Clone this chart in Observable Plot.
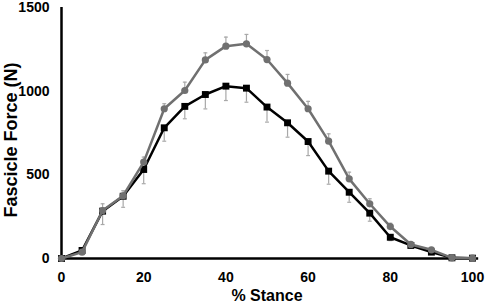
<!DOCTYPE html>
<html>
<head>
<meta charset="utf-8">
<script src="https://cdn.jsdelivr.net/npm/d3@7"></script>
<script src="https://cdn.jsdelivr.net/npm/@observablehq/plot@0.6"></script>
<style>
  html, body { margin: 0; padding: 0; background: #fff; }
  svg { display: block; }
</style>
</head>
<body>
<div id="chart"></div>
<script>
const stance = [0, 5, 10, 15, 20, 25, 30, 35, 40, 45, 50, 55, 60, 65, 70, 75, 80, 85, 90, 95, 100];
const grayForce = [0, 38, 287, 375, 576, 895, 1004, 1187, 1269, 1283, 1189, 1048, 895, 701, 476, 327, 191, 84, 52, 4, 2];
const grayErr   = [0, 10, 40, 30, 30, 30, 50, 42, 54, 56, 54, 52, 44, 44, 40, 30, 20, 10, 10, 0, 0];
const blackForce = [0, 48, 283, 372, 532, 781, 909, 980, 1030, 1018, 905, 811, 699, 522, 396, 271, 127, 78, 38, 4, 2];
const blackErr   = [0, 10, 80, 66, 85, 80, 74, 86, 86, 84, 90, 86, 84, 78, 60, 48, 20, 10, 10, 0, 0];
const xTicks = [0, 20, 40, 60, 80, 100];
const yTicks = [0, 500, 1000, 1500];

const gray = stance.map((x, i) => ({x, y: grayForce[i], lo: grayForce[i], hi: grayForce[i] + grayErr[i]}));
const black = stance.map((x, i) => ({x, y: blackForce[i], lo: blackForce[i] - blackErr[i], hi: blackForce[i]}));

const capSymbol = {
  draw(ctx, size) {
    const w = Math.sqrt(size);
    ctx.moveTo(-w / 2, 0);
    ctx.lineTo(w / 2, 0);
  }
};

const errColor = "#a8a8a8";
const grayColor = "#707070";
const font = "Arial, 'Liberation Sans', sans-serif";

const chart = Plot.plot({
  width: 486,
  height: 305,
  marginLeft: 61,
  marginRight: 14,
  marginTop: 7,
  marginBottom: 47,
  style: {fontFamily: font, fontWeight: "bold", fontSize: "14px", color: "#000", background: "#fff"},
  x: {domain: [0, 100], ticks: xTicks, tickFormat: "d", tickSize: 0, tickPadding: 14, label: "% Stance", labelArrow: "none", labelAnchor: "center", labelOffset: 42},
  y: {domain: [0, 1500], ticks: yTicks, tickFormat: "d", tickSize: 0, tickPadding: 12, label: "Fascicle Force (N)", labelArrow: "none", labelAnchor: "center", labelOffset: 57},
  marks: [
    // error bars
    Plot.ruleX(black, {x: "x", y1: "lo", y2: "hi", stroke: errColor, strokeWidth: 1.2}),
    Plot.dot(black, {x: "x", y: "lo", symbol: capSymbol, r: 2.2, stroke: errColor, strokeWidth: 1.2, fill: "none"}),
    Plot.ruleX(gray, {x: "x", y1: "lo", y2: "hi", stroke: errColor, strokeWidth: 1.2}),
    Plot.dot(gray, {x: "x", y: "hi", symbol: capSymbol, r: 2.2, stroke: errColor, strokeWidth: 1.2, fill: "none"}),
    // axes lines
    Plot.ruleX([0], {stroke: "#000", strokeWidth: 2.5}),
    Plot.ruleY([0], {x1: 0, x2: 101.5, stroke: "#000", strokeWidth: 2.5, clip: false}),
    // black series
    Plot.line(black, {x: "x", y: "y", stroke: "#000", strokeWidth: 2.5}),
    Plot.dot(black, {x: "x", y: "y", symbol: "square", r: 3.9, fill: "#000", stroke: "none"}),
    // gray series
    Plot.line(gray, {x: "x", y: "y", stroke: grayColor, strokeWidth: 2.5}),
    Plot.dot(gray, {x: "x", y: "y", symbol: "circle", r: 3.6, fill: grayColor, stroke: "none"}),
  ]
});

d3.select(chart).selectAll("[aria-label='x-axis label']").style("font-size", "16px");
d3.select(chart).selectAll("[aria-label='y-axis label']").style("font-size", "18px")
  .selectAll("text").attr("dx", -7);

document.getElementById("chart").appendChild(chart);
</script>
</body>
</html>
